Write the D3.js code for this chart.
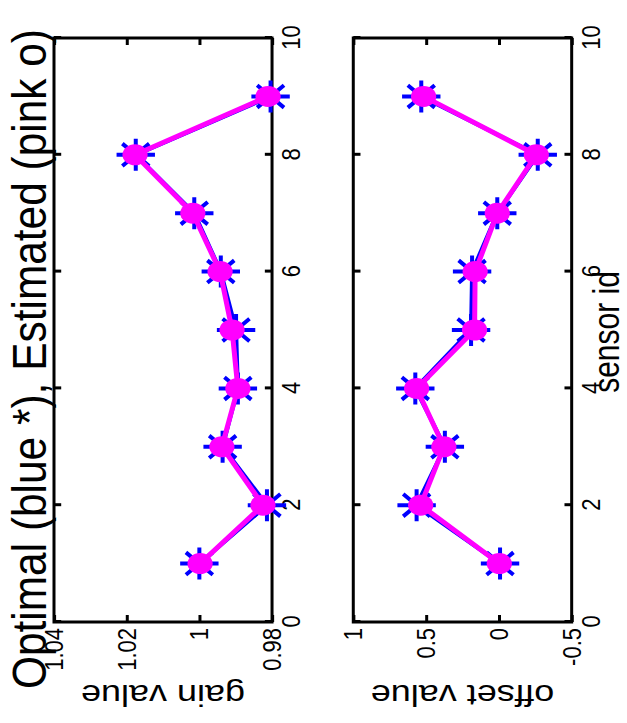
<!DOCTYPE html>
<html>
<head>
<meta charset="utf-8">
<script src="https://cdn.jsdelivr.net/npm/d3@7"></script>
<style>
body { margin: 0; background: #fff; }
text { font-family: "Liberation Sans", Arial, sans-serif; fill: #000; }
</style>
</head>
<body>
<script>
// the figure was saved turned 90deg and a bit stretched, so draw it upright and turn it
var W = 723, H = 627, stretch = 1.2;

var sensorIds = [1, 2, 3, 4, 5, 6, 7, 8, 9];
var gainOptimal = [1.0000, 0.9814, 0.9936, 0.9894, 0.9899, 0.9941, 1.0014, 1.0175, 0.9804];
var gainEstimated = [0.9998, 0.9825, 0.9938, 0.9894, 0.9910, 0.9943, 1.0018, 1.0177, 0.9811];
var offsetOptimal = [-0.008, 0.565, 0.371, 0.574, 0.191, 0.184, 0.011, -0.267, 0.533];
var offsetEstimated = [-0.003, 0.537, 0.378, 0.565, 0.167, 0.163, 0.011, -0.257, 0.517];

var sensorTicks = [0, 2, 4, 6, 8, 10];
var gainTicks = [0.98, 1, 1.02, 1.04];
var gainTickLabels = ["0.98", "1", "1.02", "1.04"];
var offsetTicks = [-0.5, 0, 0.5, 1];
var offsetTickLabels = ["-0.5", "0", "0.5", "1"];

var svg = d3.select("body").append("svg")
    .attr("width", H)
    .attr("height", W);

var fig = svg.append("g")
    .attr("transform", "translate(0," + W + ") rotate(-90) scale(1," + stretch + ")");

var x = d3.scaleLinear().domain([0, 10]).range([101, 685]);

var panels = [
    {top: 45, bottom: 226.7, domain: [0.98, 1.04], ticks: gainTicks, labels: gainTickLabels,
        opt: gainOptimal, est: gainEstimated, ylabel: "gain value", xlabel: false},
    {top: 294.4, bottom: 476.4, domain: [-0.5, 1], ticks: offsetTicks, labels: offsetTickLabels,
        opt: offsetOptimal, est: offsetEstimated, ylabel: "offset value", xlabel: true}
];

function thick(sel, w) {
    sel.selectAll("line, path")
        .attr("vector-effect", "non-scaling-stroke")
        .attr("stroke-width", w);
}

panels.forEach(function(p) {
    var y = d3.scaleLinear().domain(p.domain).range([p.bottom, p.top]);
    var g = fig.append("g");

    g.append("rect")
        .attr("x", x(0)).attr("y", p.top)
        .attr("width", x(10) - x(0)).attr("height", p.bottom - p.top)
        .attr("fill", "#fff").attr("stroke", "#000")
        .attr("stroke-width", 3).attr("vector-effect", "non-scaling-stroke");

    var ax = g.append("g").attr("transform", "translate(0," + p.bottom + ")")
        .call(d3.axisBottom(x).tickValues(sensorTicks).tickSizeInner(-6).tickSizeOuter(0).tickPadding(8))
        .attr("font-size", 22);
    var axT = g.append("g").attr("transform", "translate(0," + p.top + ")")
        .call(d3.axisTop(x).tickValues(sensorTicks).tickSizeInner(-6).tickSizeOuter(0).tickFormat(""));
    var ay = g.append("g").attr("transform", "translate(" + x(0) + ",0)")
        .call(d3.axisLeft(y).tickValues(p.ticks).tickFormat(function(d, i) { return p.labels[i]; })
            .tickSizeInner(-7).tickSizeOuter(0).tickPadding(6))
        .attr("font-size", 22);
    var ayR = g.append("g").attr("transform", "translate(" + x(10) + ",0)")
        .call(d3.axisRight(y).tickValues(p.ticks).tickSizeInner(-7).tickSizeOuter(0).tickFormat(""));
    [ax, axT, ay, ayR].forEach(function(a) {
        a.select(".domain").remove();
        thick(a, 3);
    });

    var line = d3.line()
        .x(function(d, i) { return x(sensorIds[i]); })
        .y(function(d) { return y(d); });

    g.append("path").datum(p.opt)
        .attr("d", line).attr("fill", "none").attr("stroke", "#0000ff")
        .attr("stroke-width", 4).attr("vector-effect", "non-scaling-stroke");

    // blue asterisks
    var r = 16, k = r * 0.7;
    var star = "M" + (-r) + ",0L" + r + ",0M0," + (-r) + "L0," + r +
        "M" + (-k) + "," + (-k) + "L" + k + "," + k + "M" + (-k) + "," + k + "L" + k + "," + (-k);
    g.selectAll(".star").data(p.opt).enter().append("path")
        .attr("class", "star")
        .attr("transform", function(d, i) { return "translate(" + x(sensorIds[i]) + "," + y(d) + ")"; })
        .attr("d", star).attr("fill", "none").attr("stroke", "#0000ff")
        .attr("stroke-width", 4).attr("vector-effect", "non-scaling-stroke");

    g.append("path").datum(p.est)
        .attr("d", line).attr("fill", "none").attr("stroke", "#ff00ff")
        .attr("stroke-width", 5).attr("vector-effect", "non-scaling-stroke");

    g.selectAll(".dot").data(p.est).enter().append("circle")
        .attr("class", "dot")
        .attr("cx", function(d, i) { return x(sensorIds[i]); })
        .attr("cy", function(d) { return y(d); })
        .attr("r", 10.5)
        .attr("fill", "#ff00ff");

    // y label, ends up upside down after the turn
    g.append("text")
        .attr("transform", "translate(38," + ((p.top + p.bottom) / 2) + ") rotate(-90)")
        .attr("text-anchor", "middle")
        .attr("font-size", 30)
        .text(p.ylabel);

    if (p.xlabel) {
        g.append("text")
            .attr("x", (x(0) + x(10)) / 2 - 2)
            .attr("y", 516)
            .attr("text-anchor", "middle")
            .attr("font-size", 30)
            .text("sensor id");
    }
});

fig.append("text")
    .attr("x", 34)
    .attr("y", 38)
    .attr("font-size", 40)
    .attr("textLength", 660)
    .attr("lengthAdjust", "spacingAndGlyphs")
    .text("Optimal (blue *), Estimated (pink o)");
</script>
</body>
</html>
